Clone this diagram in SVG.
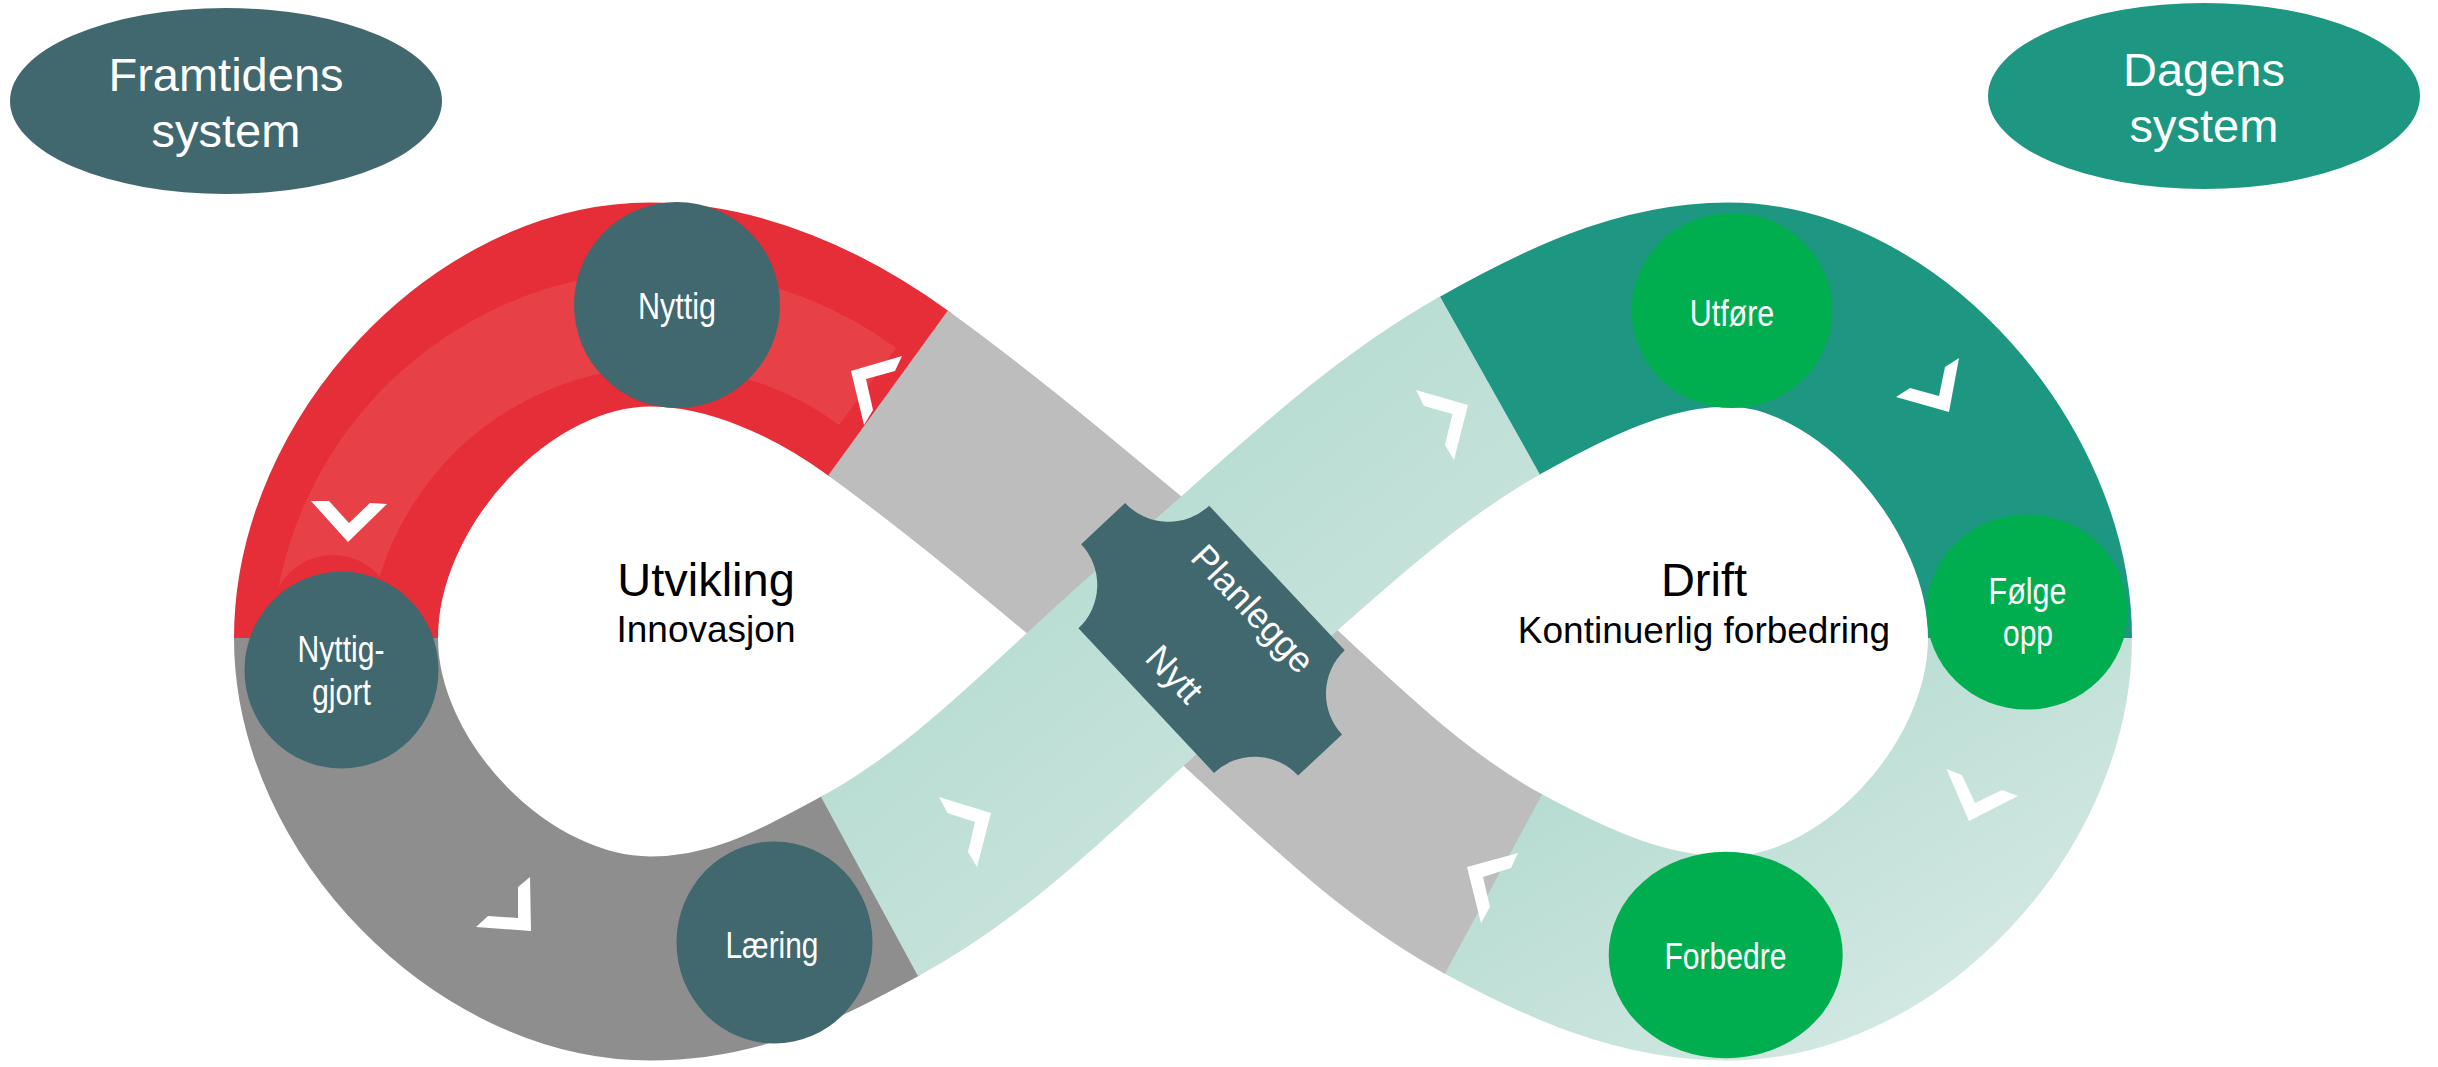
<svg xmlns="http://www.w3.org/2000/svg" width="2438" height="1067" viewBox="0 0 2438 1067">
<defs>
<linearGradient id="tealGrad" x1="0" y1="0" x2="1" y2="1">
<stop offset="0" stop-color="#ABD7CB"/>
<stop offset="1" stop-color="#D3E8E3"/>
</linearGradient>
<style>
.band{fill:none;stroke-width:204;stroke-linecap:butt}
.chev{fill:#ffffff}
.slate{fill:#41686F}
.green{fill:#00AE50}
.lbl{font-family:"Liberation Sans Narrow","Arial Narrow","Liberation Sans",Arial,sans-serif;font-size:37px;fill:#ffffff;text-anchor:middle}
.big{font-family:"Liberation Sans",Arial,sans-serif;font-size:47px;text-anchor:middle}
.sub{font-family:"Liberation Sans",Arial,sans-serif;font-size:37px;text-anchor:middle;fill:#000000}
</style>
</defs>
<rect width="2438" height="1067" fill="#ffffff"/>

<g id="connectors">
<path class="band" stroke="#E52E38" d="M890.4,394.8 L888,393 C819.1,343.1 735,304.5 650,304.5 C493,304.5 336,471.2 336,638"/>
<path class="band" stroke="#8E8E8E" d="M336,638 C336,798 493,958.5 650,958.5 C735,958.5 794.7,927 869.5,886.5 L872.1,885.1"/>
<path class="band" stroke="#1D9781" d="M1487.4,387 L1490,385.5 C1564.1,343.8 1643,304.5 1728,304.5 C1879,304.5 2030,478 2030,638"/>
<path class="band" stroke="url(#tealGrad)" d="M2030,638 C2030,798 1879,958.5 1728,958.5 C1643,958.5 1568.3,924.6 1493.5,884 L1490.9,882.6"/>
<path class="band" stroke="#BDBDBD" d="M1493.5,884 C1374.7,819.5 1287.8,715.2 1183,630 C1082.1,548 993.3,469.3 888,393"/>
<path class="band" stroke="url(#tealGrad)" d="M869.5,886.5 C988.3,822.2 1079.7,716.9 1183,630 C1282.5,546.3 1376.6,449.2 1490,385.5"/>
<path fill="none" stroke="#E84047" stroke-width="96" d="M867.6,386.5 A344,344 0 0 0 319.2,651"/>
<circle cx="333" cy="617" r="62" fill="#E52E38"/>
<polygon class="chev" points="311,501 329,501 349,523 370,503 387,504 348,542"/>
<polygon class="chev" points="851,371 902,356 895,371 866,379 873,410 864,425"/>
<polygon class="chev" points="476,927 488,916 518,918 518,887 530,877 531,931"/>
<polygon class="chev" points="939,797 991,813 977,867 968,852 975,822 947.5,813"/>
<polygon class="chev" points="1416,390 1468,405 1454,460 1445,445 1452.5,414 1424,406"/>
<polygon class="chev" points="1896,397 1910,388 1939,396 1945,367 1959,358 1949,412"/>
<polygon class="chev" points="1946.5,769 1962,775 1975,803 2002,790 2018,796 1969,821"/>
<polygon class="chev" points="1467,867 1518,853 1511,868 1483,877 1490,907 1481,923"/>
</g>

<g id="node-planlegge" transform="translate(1211.6,639.3) rotate(46.85)">
<path class="slate" d="M-99.1,-89.6 L99.1,-89.6 A59.5,59.5 0 0 0 158.6,-30.1 L158.6,30.1 A59.5,59.5 0 0 0 99.1,89.6 L-99.1,89.6 A59.5,59.5 0 0 0 -158.6,30.1 L-158.6,-30.1 A59.5,59.5 0 0 0 -99.1,-89.6 Z"/>
<text x="6" y="-38.6" class="sub" style="font-size:36px" fill="#ffffff"><tspan fill="#ffffff">Planlegge</tspan></text>
<text x="0" y="63.2" class="sub" style="font-size:36px"><tspan fill="#ffffff">Nytt</tspan></text>
</g>

<g id="node-framtidens">
<ellipse cx="226" cy="101" rx="216" ry="93" fill="#41686F"/>
<text x="226" y="91" class="big" fill="#ffffff">Framtidens</text>
<text x="226" y="147" class="big" fill="#ffffff">system</text>
</g>

<g id="node-dagens">
<ellipse cx="2204" cy="96" rx="216" ry="93" fill="#1D9781"/>
<text x="2204" y="86" class="big" fill="#ffffff">Dagens</text>
<text x="2204" y="142" class="big" fill="#ffffff">system</text>
</g>

<g id="node-utvikling">
<text x="706" y="596" class="big" fill="#000000">Utvikling</text>
<text x="706" y="642" class="sub">Innovasjon</text>
</g>

<g id="node-drift">
<text x="1704" y="596" class="big" fill="#000000">Drift</text>
<text x="1704" y="643" class="sub">Kontinuerlig forbedring</text>
</g>

<g id="node-nyttig">
<circle cx="677" cy="305" r="103" class="slate"/>
<text x="677" y="319" class="lbl" textLength="78" lengthAdjust="spacingAndGlyphs">Nyttig</text>
</g>

<g id="node-nyttiggjort">
<ellipse cx="341.5" cy="670" rx="97" ry="98.5" class="slate"/>
<text x="341" y="662" class="lbl" textLength="87" lengthAdjust="spacingAndGlyphs">Nyttig-</text>
<text x="341.5" y="705" class="lbl" textLength="59" lengthAdjust="spacingAndGlyphs">gjort</text>
</g>

<g id="node-laering">
<ellipse cx="774.5" cy="942.5" rx="98" ry="101" class="slate"/>
<text x="772" y="958" class="lbl" textLength="93" lengthAdjust="spacingAndGlyphs">Læring</text>
</g>

<g id="node-utfore">
<ellipse cx="1732" cy="310.5" rx="100.4" ry="97.6" class="green"/>
<text x="1732" y="326" class="lbl" textLength="84.5" lengthAdjust="spacingAndGlyphs">Utføre</text>
</g>

<g id="node-folgeopp">
<ellipse cx="2027" cy="612" rx="100.5" ry="97.6" class="green"/>
<text x="2027.5" y="604.4" class="lbl" textLength="78" lengthAdjust="spacingAndGlyphs">Følge</text>
<text x="2028" y="646.3" class="lbl" textLength="50" lengthAdjust="spacingAndGlyphs">opp</text>
</g>

<g id="node-forbedre">
<ellipse cx="1725.7" cy="955" rx="117" ry="103.3" class="green"/>
<text x="1725.5" y="969" class="lbl" textLength="122" lengthAdjust="spacingAndGlyphs">Forbedre</text>
</g>
</svg>
